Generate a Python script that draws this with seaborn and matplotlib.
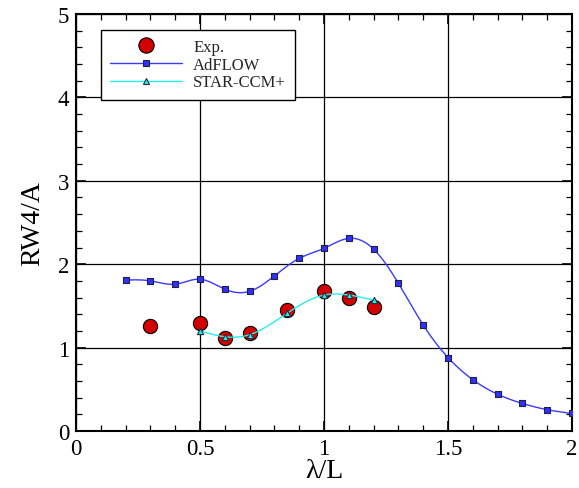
import numpy as np
import pandas as pd
import matplotlib
matplotlib.use("Agg")
import matplotlib.pyplot as plt
from matplotlib.lines import Line2D
from matplotlib.ticker import MultipleLocator
import seaborn as sns

# ---- data ----
exp_x = [0.3, 0.5, 0.6, 0.7, 0.85, 1.0, 1.1, 1.2]
exp_y = [1.26, 1.30, 1.12, 1.18, 1.45, 1.675, 1.60, 1.49]

adflow_x = [0.2, 0.3, 0.4, 0.5, 0.6, 0.7, 0.8, 0.9, 1.0, 1.1, 1.2, 1.3, 1.4,
            1.5, 1.6, 1.7, 1.8, 1.9, 2.0]
adflow_y = [1.81, 1.80, 1.76, 1.82, 1.70, 1.675, 1.86, 2.07, 2.19, 2.31, 2.18,
            1.77, 1.27, 0.88, 0.615, 0.44, 0.33, 0.255, 0.21]

star_x = [0.5, 0.6, 0.7, 0.85, 1.0, 1.1, 1.2]
star_y = [1.20, 1.13, 1.155, 1.41, 1.63, 1.63, 1.57]

x_ticks = [0, 0.5, 1, 1.5, 2]
x_tick_labels = ["0", "0.5", "1", "1.5", "2"]
y_ticks = [0, 1, 2, 3, 4, 5]
y_tick_labels = ["0", "1", "2", "3", "4", "5"]


def smooth_curve(x, y, n=400):
    """Natural cubic spline through the data points (for drawing the line only)."""
    x = np.asarray(x, float)
    y = np.asarray(y, float)
    m = len(x)
    h = np.diff(x)
    A = np.zeros((m, m))
    b = np.zeros(m)
    A[0, 0] = 1
    A[-1, -1] = 1
    for i in range(1, m - 1):
        A[i, i - 1] = h[i - 1]
        A[i, i] = 2 * (h[i - 1] + h[i])
        A[i, i + 1] = h[i]
        b[i] = 3 * ((y[i + 1] - y[i]) / h[i] - (y[i] - y[i - 1]) / h[i - 1])
    c = np.linalg.solve(A, b)
    bb = (np.diff(y) / h) - h * (2 * c[:-1] + c[1:]) / 3
    d = np.diff(c) / (3 * h)
    xs = np.linspace(x[0], x[-1], n)
    idx = np.clip(np.searchsorted(x, xs) - 1, 0, m - 2)
    dx = xs - x[idx]
    ys = y[idx] + bb[idx] * dx + c[idx] * dx ** 2 + d[idx] * dx ** 3
    return xs, ys


sns.set_theme(style="ticks")
plt.rcParams["font.family"] = ["Liberation Serif", "DejaVu Serif"]

fig = plt.figure(figsize=(5.79, 4.89), dpi=100)
ax = fig.add_axes([0.1313, 0.1166, 0.8567, 0.8527])

ax.grid(True, which="major", color="black", linewidth=0.9)
ax.set_axisbelow(True)

exp_df = pd.DataFrame({"x": exp_x, "y": exp_y})
ad_df = pd.DataFrame({"x": adflow_x, "y": adflow_y})
st_df = pd.DataFrame({"x": star_x, "y": star_y})

ad_sx, ad_sy = smooth_curve(adflow_x, adflow_y)
st_sx, st_sy = smooth_curve(star_x, star_y)

blue = "#3a3aff"
cyan = "#22eeee"

sns.scatterplot(data=exp_df, x="x", y="y", ax=ax, color="#d40000", s=105,
                edgecolor="black", linewidth=0.8, zorder=3, legend=False)
sns.lineplot(x=ad_sx, y=ad_sy, ax=ax, color=blue, linewidth=1.0,
             sort=False, estimator=None, zorder=4, legend=False)
sns.scatterplot(data=ad_df, x="x", y="y", ax=ax, color="#3030ff", marker="s",
                s=18, edgecolor="#202040", linewidth=0.8, zorder=5, legend=False)
sns.lineplot(x=st_sx, y=st_sy, ax=ax, color=cyan, linewidth=1.0,
             sort=False, estimator=None, zorder=4, legend=False)
sns.scatterplot(data=st_df, x="x", y="y", ax=ax, color=cyan, marker="^",
                s=20, edgecolor="#203040", linewidth=0.8, zorder=5, legend=False)

ax.set_xlim(0, 2)
ax.set_ylim(0, 5)
ax.set_xticks(x_ticks)
ax.set_xticklabels(x_tick_labels)
ax.set_yticks(y_ticks)
ax.set_yticklabels(y_tick_labels)
ax.xaxis.set_minor_locator(MultipleLocator(0.1))
ax.yaxis.set_minor_locator(MultipleLocator(0.2))
ax.tick_params(which="both", direction="in", top=True, right=True,
               colors="black", labelsize=16.5)
ax.tick_params(which="major", length=7, width=1.2)
ax.tick_params(which="minor", length=4, width=0.9)
ax.tick_params(axis="x", pad=5)
ax.tick_params(axis="y", pad=5)
for sp in ax.spines.values():
    sp.set_color("black")
    sp.set_linewidth(1.5)

ax.set_xlabel("λ/L", fontsize=20, color="black", labelpad=-1)
ax.set_ylabel("RW4/A", fontsize=20, color="black", labelpad=9)

handles = [
    Line2D([], [], linestyle="none", marker="o", markersize=11,
           markerfacecolor="#d40000", markeredgecolor="black", markeredgewidth=0.8),
    Line2D([], [], color=blue, linewidth=1.0, marker="s", markersize=4.5,
           markerfacecolor="#3030ff", markeredgecolor="#202040", markeredgewidth=0.8),
    Line2D([], [], color=cyan, linewidth=1.0, marker="^", markersize=4.5,
           markerfacecolor=cyan, markeredgecolor="#203040", markeredgewidth=0.8),
]
leg = ax.legend(handles, ["Exp.", "AdFLOW", "STAR-CCM+"], loc="upper left",
                bbox_to_anchor=(0.05, 0.962), fontsize=12, handlelength=4.3,
                handletextpad=0.7, borderpad=0.55, labelspacing=0.1,
                fancybox=False, framealpha=1, edgecolor="black",
                borderaxespad=0, markerscale=1.0)
leg.get_frame().set_linewidth(1.0)
leg.set_zorder(10)

fig.savefig("out.png", dpi=100)
